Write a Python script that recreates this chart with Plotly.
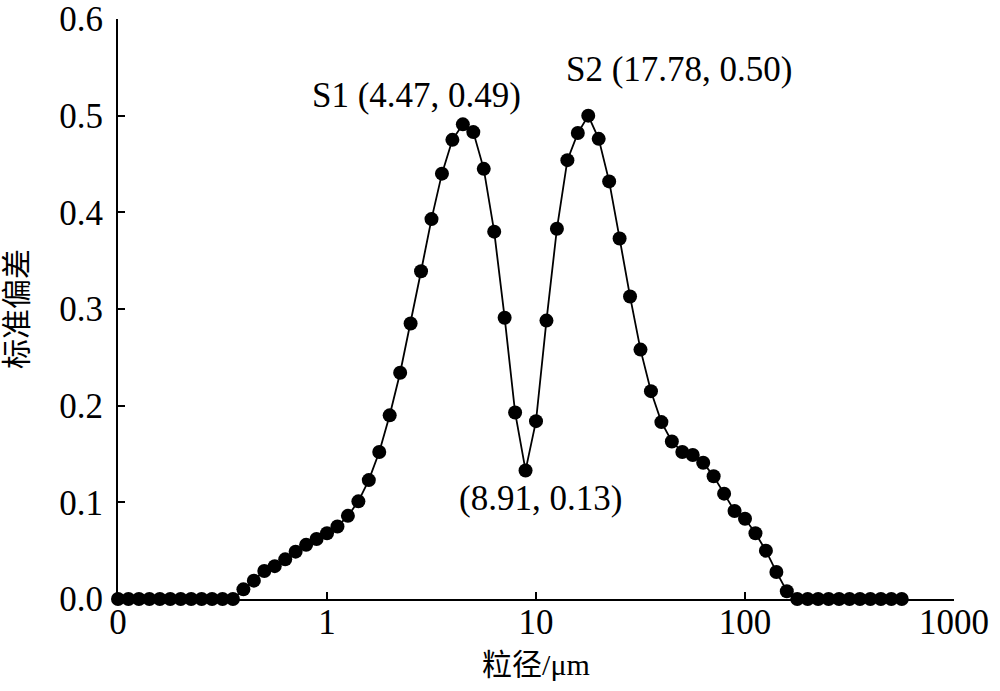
import math
import plotly.graph_objects as go

# particle size (µm), geometric grid
size_um = [0.1, 0.1122, 0.1259, 0.1413, 0.1585, 0.1778, 0.1995, 0.2239, 0.2512, 0.2818,
           0.3162, 0.3548, 0.3981, 0.4467, 0.5012, 0.5623, 0.631, 0.7079, 0.7943, 0.8913,
           1.0, 1.122, 1.259, 1.413, 1.585, 1.778, 1.995, 2.239, 2.512, 2.818,
           3.162, 3.548, 3.981, 4.467, 5.012, 5.623, 6.31, 7.079, 7.943, 8.913,
           10.0, 11.22, 12.59, 14.13, 15.85, 17.78, 19.95, 22.39, 25.12, 28.18,
           31.62, 35.48, 39.81, 44.67, 50.12, 56.23, 63.1, 70.79, 79.43, 89.13,
           100.0, 112.2, 125.9, 141.3, 158.5, 177.8, 199.5, 223.9, 251.2, 281.8,
           316.2, 354.8, 398.1, 446.7, 501.2, 562.3]
std_dev = [0, 0, 0, 0, 0, 0, 0, 0, 0, 0,
           0, 0, 0.010, 0.019, 0.029, 0.034, 0.041, 0.049, 0.056, 0.062,
           0.068, 0.075, 0.086, 0.101, 0.123, 0.152, 0.190, 0.234, 0.285, 0.339,
           0.393, 0.440, 0.475, 0.491, 0.483, 0.445, 0.380, 0.291, 0.193, 0.133,
           0.184, 0.288, 0.383, 0.454, 0.482, 0.500, 0.476, 0.432, 0.373, 0.313,
           0.258, 0.215, 0.183, 0.163, 0.152, 0.149, 0.141, 0.127, 0.109, 0.091,
           0.083, 0.068, 0.050, 0.028, 0.008, 0, 0, 0, 0, 0,
           0, 0, 0, 0, 0, 0]

x_tickvals = [0.1, 1, 10, 100, 1000]
x_ticktext = ["0", "1", "10", "100", "1000"]
y_tickvals = [0, 0.1, 0.2, 0.3, 0.4, 0.5, 0.6]

peak_labels = ["S1 (4.47, 0.49)", "S2 (17.78, 0.50)", "(8.91, 0.13)"]
peak_x = [4.467, 17.78, 8.913]
peak_y = [0.491, 0.500, 0.133]
peak_shift = [(-46, 29), (91, 46), (15, -28)]

SERIF = "Liberation Serif, Times New Roman, serif"
MIXED = "Liberation Serif, Noto Sans CJK SC, serif"

fig = go.Figure()
fig.add_trace(go.Scatter(
    x=size_um, y=std_dev, mode="lines+markers",
    line=dict(color="black", width=1.8),
    marker=dict(color="black", size=14),
    showlegend=False, cliponaxis=False,
))

annotations = []
for lbl, px_, py_, (dx, dy) in zip(peak_labels, peak_x, peak_y, peak_shift):
    annotations.append(dict(
        x=math.log10(px_), y=py_, xref="x", yref="y", text=lbl,
        xanchor="center", yanchor="middle", xshift=dx, yshift=dy,
        showarrow=False, font=dict(family=SERIF, size=35, color="black"),
    ))

fig.update_layout(
    width=1000, height=691,
    margin=dict(l=118, r=46, t=19, b=92),
    plot_bgcolor="white", paper_bgcolor="white",
    annotations=annotations,
    font=dict(family=SERIF, size=35, color="black"),
)
fig.update_xaxes(
    type="log", range=[-1, 3], automargin=False,
    tickvals=x_tickvals, ticktext=x_ticktext,
    ticks="inside", ticklen=7, tickwidth=1.5, tickcolor="black",
    showline=True, linecolor="black", linewidth=2,
    showgrid=False, zeroline=False,
    ticklabelstandoff=-9, ticklabeloverflow="allow",
    tickfont=dict(family=SERIF, size=35),
    title=dict(text="粒径/μm", font=dict(family=MIXED, size=30), standoff=13),
)
fig.update_yaxes(
    range=[0, 0.6], tickvals=y_tickvals, tickformat=".1f", automargin=False,
    ticks="inside", ticklen=7, tickwidth=1.5, tickcolor="black",
    showline=True, linecolor="black", linewidth=2,
    showgrid=False, zeroline=False,
    ticklabelstandoff=6, ticklabeloverflow="allow",
    tickfont=dict(family=SERIF, size=35),
    title=dict(text="标准偏差", font=dict(family=MIXED, size=30), standoff=34),
)

fig.write_html("out.html",
               config={"displayModeBar": False},
               post_script="document.body.style.margin='0';document.body.style.overflow='hidden';")
